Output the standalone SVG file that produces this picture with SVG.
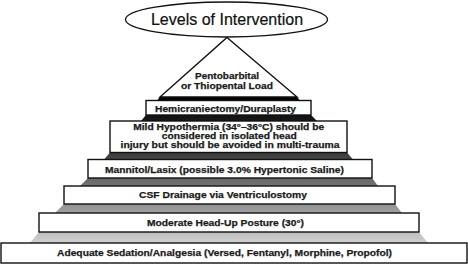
<svg xmlns="http://www.w3.org/2000/svg" width="468" height="267" viewBox="0 0 468 267">
<defs>
<linearGradient id="shade" gradientUnits="userSpaceOnUse" x1="0" y1="97" x2="0" y2="243">
<stop offset="0" stop-color="#000"/>
<stop offset="0.35" stop-color="#333"/>
<stop offset="0.7" stop-color="#8a8a8a"/>
<stop offset="1" stop-color="#d0d0d0"/>
</linearGradient>
</defs>
<style>
.box{fill:#fff;stroke:#111;stroke-width:1.4}
.band{fill:url(#shade);stroke:none}
.lbl{font-family:"Liberation Sans",Arial,sans-serif;font-weight:bold;font-size:9.6px;fill:#1a1a1a;stroke:#1a1a1a;stroke-width:0.25;text-anchor:middle}
.sm{font-size:8.8px}
.title{font-family:"Liberation Sans",Arial,sans-serif;font-size:16px;fill:#111;stroke:#111;stroke-width:0.2;text-anchor:middle}
</style>
<rect width="468" height="267" fill="#fff"/>
<g id="bands">
<polygon class="band" points="160,97 297,97 300,100.5 157,100.5"/>
<polygon class="band" points="146,115 311,115 317,121 141,121"/>
<polygon class="band" points="110,152.5 347,152.5 353,159.5 104,159.5"/>
<polygon class="band" points="88,178 372,178 378,186 80,186"/>
<polygon class="band" points="64,204 395,204 402,213 55,213"/>
<polygon class="band" points="39,232 419,232 428,243 30,243"/>
</g>
<g id="title">
<ellipse cx="226.5" cy="19.5" rx="101" ry="17.5" fill="#fff" stroke="#111" stroke-width="1.3"/>
<text class="title" x="227" y="25">Levels of Intervention</text>
</g>
<g id="pentobarbital">
<polygon points="227,37.5 297,97 160,97" fill="#fff" stroke="#111" stroke-width="1.4"/>
<text class="lbl" x="227" y="78.7" textLength="64" lengthAdjust="spacingAndGlyphs">Pentobarbital</text>
<text class="lbl" x="227" y="88.5" textLength="92" lengthAdjust="spacingAndGlyphs">or Thiopental Load</text>
</g>
<g id="hemicraniectomy">
<rect class="box" x="146" y="100.5" width="165" height="14.5"/>
<text class="lbl" x="225.5" y="111.5" textLength="141" lengthAdjust="spacingAndGlyphs">Hemicraniectomy/Duraplasty</text>
</g>
<g id="hypothermia">
<rect class="box" x="110" y="121" width="237" height="31.5"/>
<text class="lbl sm" x="228.7" y="129.8" textLength="191" lengthAdjust="spacingAndGlyphs">Mild Hypothermia (34°–36°C) should be</text>
<text class="lbl sm" x="229.2" y="138.7" textLength="135" lengthAdjust="spacingAndGlyphs">considered in isolated head</text>
<text class="lbl sm" x="230" y="147.5" textLength="219" lengthAdjust="spacingAndGlyphs">injury but should be avoided in multi-trauma</text>
</g>
<g id="mannitol">
<rect class="box" x="88" y="159.5" width="284" height="18.5"/>
<text class="lbl" x="224.5" y="172.7" textLength="239" lengthAdjust="spacingAndGlyphs">Mannitol/Lasix (possible 3.0% Hypertonic Saline)</text>
</g>
<g id="csf">
<rect class="box" x="64" y="186" width="331" height="18"/>
<text class="lbl" x="223" y="198" textLength="168" lengthAdjust="spacingAndGlyphs">CSF Drainage via Ventriculostomy</text>
</g>
<g id="posture">
<rect class="box" x="39" y="213" width="380" height="19"/>
<text class="lbl" x="225.5" y="225.5" textLength="157" lengthAdjust="spacingAndGlyphs">Moderate Head-Up Posture (30°)</text>
</g>
<g id="sedation">
<rect class="box" x="1" y="243" width="466" height="20"/>
<text class="lbl" x="224.5" y="256" textLength="335" lengthAdjust="spacingAndGlyphs">Adequate Sedation/Analgesia (Versed, Fentanyl, Morphine, Propofol)</text>
</g>
</svg>
